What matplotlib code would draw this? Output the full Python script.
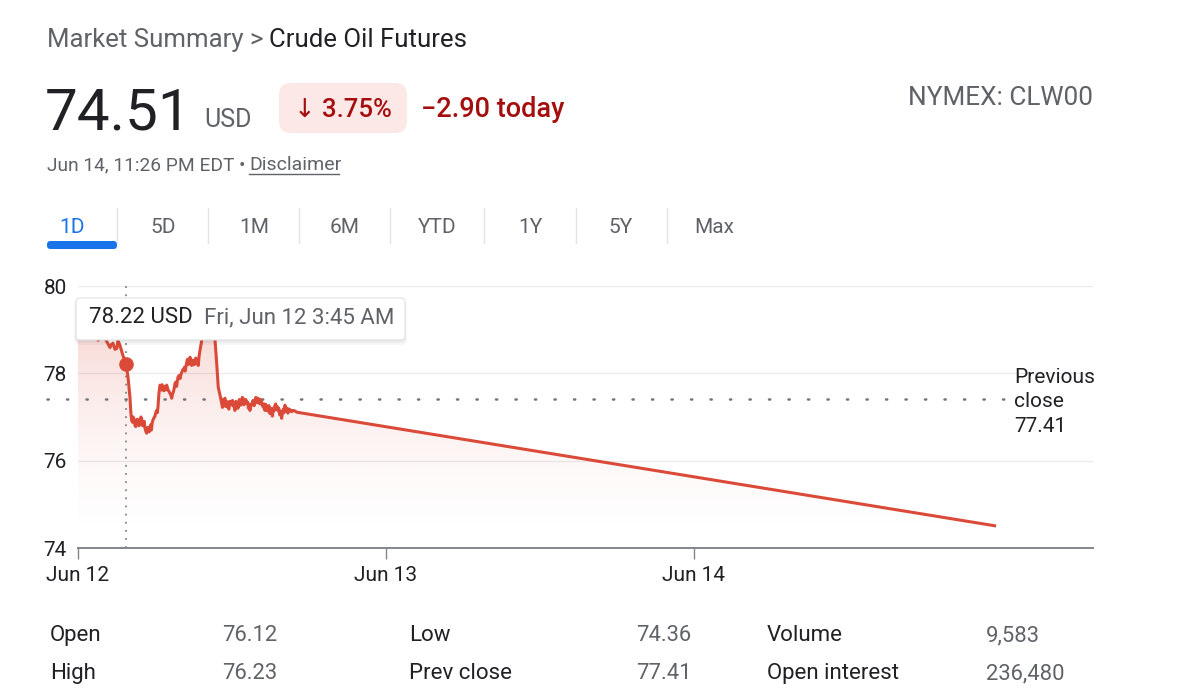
import matplotlib
matplotlib.use('Agg')
import matplotlib.pyplot as plt
import numpy as np
from matplotlib.patches import FancyBboxPatch
from matplotlib.colors import to_rgb

plt.rcParams['font.family'] = ['Roboto', 'DejaVu Sans']

# ---------------- data ----------------
hours = [0.00, 0.25, 0.55, 0.80, 1.09, 1.30, 1.56, 1.80, 2.10, 2.30, 2.49, 2.60, 2.73, 2.88,
         3.02, 3.12, 3.27, 3.50, 3.75, 3.90, 4.05, 4.18, 4.30, 4.44, 4.56, 4.68, 4.83, 4.96,
         5.10, 5.22, 5.35, 5.48, 5.61, 5.72, 5.84, 6.00, 6.13, 6.23, 6.39, 6.50, 6.62, 6.75,
         6.91, 7.05, 7.17, 7.30, 7.45, 7.56, 7.68, 7.79, 7.95, 8.08, 8.25, 8.35, 8.47, 8.60,
         8.73, 8.86, 9.00, 9.12, 9.25, 9.37, 9.51, 9.64, 9.90, 10.21, 10.52, 10.68, 10.81,
         10.93, 11.07, 11.20, 11.32, 11.45, 11.57, 11.69, 11.83, 11.98, 12.10, 12.23, 12.40,
         12.52, 12.62, 12.75, 12.86, 13.00, 13.15, 13.28, 13.40, 13.52, 13.64, 13.80, 13.92,
         14.03, 14.17, 14.31, 14.45, 14.57, 14.70, 14.81, 14.95, 15.09, 15.22, 15.35, 15.47,
         15.58, 15.72, 15.87, 16.00, 16.13, 16.25, 16.36, 16.55, 16.75, 17.04, 71.43]
prices = [78.87, 78.95, 78.90, 79.02, 78.85, 78.92, 78.76, 78.84, 78.80, 78.70, 78.59, 78.66,
          78.69, 78.55, 78.57, 78.75, 78.64, 78.41, 78.22, 77.91, 77.45, 76.93, 77.00, 76.81,
          76.90, 76.93, 76.86, 76.97, 76.85, 76.74, 76.63, 76.72, 76.77, 76.70, 76.93, 77.02,
          77.15, 77.22, 77.73, 77.62, 77.66, 77.70, 77.73, 77.60, 77.54, 77.43, 77.60, 77.77,
          77.70, 77.91, 77.88, 78.02, 78.10, 78.05, 78.25, 78.20, 78.37, 78.18, 78.28, 78.30,
          78.22, 78.18, 78.53, 78.75, 79.20, 79.35, 79.10, 78.75, 78.23, 77.68, 77.50, 77.31,
          77.40, 77.43, 77.30, 77.22, 77.36, 77.34, 77.25, 77.15, 77.30, 77.26, 77.38, 77.33,
          77.43, 77.36, 77.31, 77.20, 77.15, 77.28, 77.38, 77.32, 77.40, 77.43, 77.30, 77.34,
          77.22, 77.15, 77.24, 77.20, 77.08, 77.11, 77.20, 77.27, 77.18, 77.15, 77.05, 76.97,
          77.18, 77.27, 77.14, 77.09, 77.16, 77.15, 77.11, 74.51]
extra_hours = [4.12, 4.24, 4.37, 4.50, 4.62, 4.75, 4.90, 5.03, 5.16, 5.28, 5.42, 5.54, 5.66,
               5.78, 5.92, 6.06, 6.18, 6.31, 6.45, 6.56, 6.68, 6.83, 6.98, 7.11, 7.24, 7.37,
               7.50, 7.62, 7.74, 7.87, 8.01, 8.16, 8.30, 8.41, 8.53, 8.66, 8.80, 8.93, 9.06,
               9.18, 9.31, 9.44,
               11.26, 11.38, 11.51, 11.63, 11.76, 11.90, 12.04, 12.16, 12.31, 12.46, 12.57,
               12.69, 12.80, 12.93, 13.08, 13.22, 13.34, 13.46, 13.58, 13.72, 13.86, 13.97,
               14.10, 14.24, 14.38, 14.51, 14.63, 14.76, 14.88, 15.02, 15.15, 15.28, 15.41,
               15.52, 15.65, 15.80, 15.93, 16.06, 16.19, 16.30, 16.45, 16.65, 16.90]
extra_prices = [77.10, 76.88, 76.95, 76.78, 76.95, 76.80, 77.00, 76.80, 76.90, 76.68, 76.76,
                76.66, 76.82, 76.86, 76.98, 77.10, 77.10, 77.55, 77.70, 77.74, 77.60, 77.62,
                77.66, 77.58, 77.50, 77.52, 77.66, 77.80, 77.82, 77.95, 77.96, 78.08, 78.14,
                78.15, 78.32, 78.30, 78.28, 78.30, 78.20, 78.35, 78.28, 78.40,
                77.22, 77.33, 77.24, 77.35, 77.18, 77.28, 77.38, 77.31, 77.36, 77.20, 77.40,
                77.27, 77.45, 77.28, 77.40, 77.34, 77.29, 77.24, 77.33, 77.26, 77.45, 77.33,
                77.37, 77.40, 77.26, 77.30, 77.29, 77.14, 77.26, 77.20, 77.02, 77.14, 77.30,
                77.24, 77.20, 77.13, 77.10, 77.10, 77.20, 77.20, 77.18, 77.12, 77.14]
prev_close = 77.41
hover_hour = 3.75
hover_price = 78.22
x_ticks = [0, 24, 48]
x_tick_labels = ['Jun 12', 'Jun 13', 'Jun 14']
y_ticks = [74, 76, 78, 80]
x_max = 79.1
tabs = ['1D', '5D', '1M', '6M', 'YTD', '1Y', '5Y', 'Max']
stat_labels_a = ['Open', 'High']
stat_values_a = ['76.12', '76.23']
stat_labels_b = ['Low', 'Prev close']
stat_values_b = ['74.36', '77.41']
stat_labels_c = ['Volume', 'Open interest']
stat_values_c = ['9,583', '236,480']

all_h = np.array(hours + extra_hours)
all_p = np.array(prices + extra_prices)
order = np.argsort(all_h)
all_h, all_p = all_h[order], all_p[order]

# ---------------- styles ----------------
W, H = 1200, 696
RED = '#db4a39'
DARK = '#202124'
GRAY = '#5f6368'
AXGRAY = '#80868b'
DRED = '#a50e0e'

fig = plt.figure(figsize=(W / 100, H / 100), dpi=100)
fig.patch.set_facecolor('white')

# ---------------- chart ----------------
ax = fig.add_axes([78 / W, 1 - 548 / H, (1093 - 78) / W, (548 - 286) / H])
ax.plot(all_h, all_p, color=RED, lw=2.2, solid_joinstyle='round', zorder=4)
poly = ax.fill_between(all_h, all_p, 74, color='none', lw=0)
g = np.linspace(0, 1, 256)
img = np.zeros((256, 1, 4))
img[..., :3] = to_rgb(RED)
img[:, 0, 3] = 0.28 * g ** 1.7
im = ax.imshow(img, extent=[0, x_max, 74, 80], origin='lower', aspect='auto',
               zorder=2, interpolation='bilinear')
im.set_clip_path(poly.get_paths()[0], transform=ax.transData)

ax.set_xlim(0, x_max)
ax.set_ylim(74, 80)
ax.set_yticks(y_ticks)
ax.set_yticklabels([str(v) for v in y_ticks])
ax.set_xticks(x_ticks)
ax.set_xticklabels(x_tick_labels)
ax.grid(axis='y', color='#ebebeb', lw=1.0, zorder=0)
for s in ['top', 'right', 'left']:
    ax.spines[s].set_visible(False)
ax.spines['bottom'].set_color(AXGRAY)
ax.spines['bottom'].set_linewidth(1.4)
ax.tick_params(axis='y', length=0, pad=8, labelsize=15, labelcolor=DARK)
ax.tick_params(axis='x', length=8, width=1, color=AXGRAY, pad=5, labelsize=15,
               labelcolor=DARK)

ax.axhline(prev_close, xmin=(47 - 78) / 1015, xmax=(1005 - 78) / 1015, color='#70757a',
           lw=1.8, ls=(0, (0.5, 7.3)), dash_capstyle='round', clip_on=False, zorder=3)
ax.axvline(hover_hour, ymin=0, ymax=1.0, color=AXGRAY, lw=1.3, ls=(0, (1, 3.5)),
           clip_on=False, zorder=3)
ax.plot([hover_hour], [hover_price], 'o', ms=9.5, color=RED, zorder=5)

# ---------------- overlay (pixel coords) ----------------
ov = fig.add_axes([0, 0, 1, 1], zorder=10)
ov.set_xlim(0, W)
ov.set_ylim(H, 0)
ov.axis('off')
ov.patch.set_visible(False)

def T(x, y, s, size, color, ha='left', va='baseline', **kw):
    return ov.text(x, y, s, fontsize=size, color=color, ha=ha, va=va, **kw)

T(47, 47, 'Market Summary >', 18.5, GRAY)
T(269, 47, 'Crude Oil Futures', 18.5, DARK)
T(45, 129, '74.51', 42, DARK)
T(204, 127, 'USD', 18, GRAY)
ov.add_patch(FancyBboxPatch((279, 83), 128, 50, boxstyle='round,pad=0,rounding_size=12',
                            fc='#fce8e6', ec='none'))
T(343, 117, '↓ 3.75%', 18.5, DRED, ha='center', fontweight='medium')
T(421, 117, '−2.90 today', 19.5, DRED, fontweight='medium')
T(1093, 105, 'NYMEX: CLW00', 18.8, GRAY, ha='right')
T(47, 170, 'Jun 14, 11:26 PM EDT •', 13.8, GRAY)
T(249, 170, 'Disclaimer', 14, GRAY)
ov.plot([249, 339], [174, 174], color=GRAY, lw=1.0)

tab_centers = [72, 163, 254, 345, 437, 530, 621, 714]
for i, (tx, lab) in enumerate(zip(tab_centers, tabs)):
    T(tx, 233, lab, 15, '#1a73e8' if i == 0 else GRAY, ha='center')
for sx in [117, 208, 299, 390, 484, 576, 667]:
    ov.plot([sx, sx], [208, 243], color='#e3e3e3', lw=1.0)
ov.add_patch(FancyBboxPatch((47, 241), 70, 8, boxstyle='round,pad=0,rounding_size=3.5',
                            fc='#1a73e8', ec='none'))

# previous close label
T(1014, 383, 'Previous', 15, DARK)
T(1014, 407, 'close', 15, DARK)
T(1014, 432, f'{prev_close:.2f}', 15, DARK)

# tooltip
for k, a in enumerate([0.05, 0.04, 0.03]):
    ov.add_patch(FancyBboxPatch((76 - k, 299 + k), 329 + 2 * k, 42 + k,
                                boxstyle='round,pad=0,rounding_size=5', fc='black',
                                ec='none', alpha=a))
ov.add_patch(FancyBboxPatch((76, 298), 329, 42, boxstyle='round,pad=0,rounding_size=4',
                            fc='white', ec='#e2e2e2', lw=0.8))
T(89, 323, f'{hover_price:.2f} USD', 16, DARK)
T(204, 323, 'Fri, Jun 12 3:45 AM', 16, GRAY)

# statistics table
rows_y = [641, 679]
cols = [(50, 222, stat_labels_a, stat_values_a),
        (409, 636, stat_labels_b, stat_values_b),
        (767, 986, stat_labels_c, stat_values_c)]
for lx, vx, labs, vals in cols:
    for ry, lab, val in zip(rows_y, labs, vals):
        T(lx, ry, lab, 16, DARK)
        T(vx, ry, val, 15.8, GRAY)

fig.savefig('out.png', dpi=100, facecolor='white')
